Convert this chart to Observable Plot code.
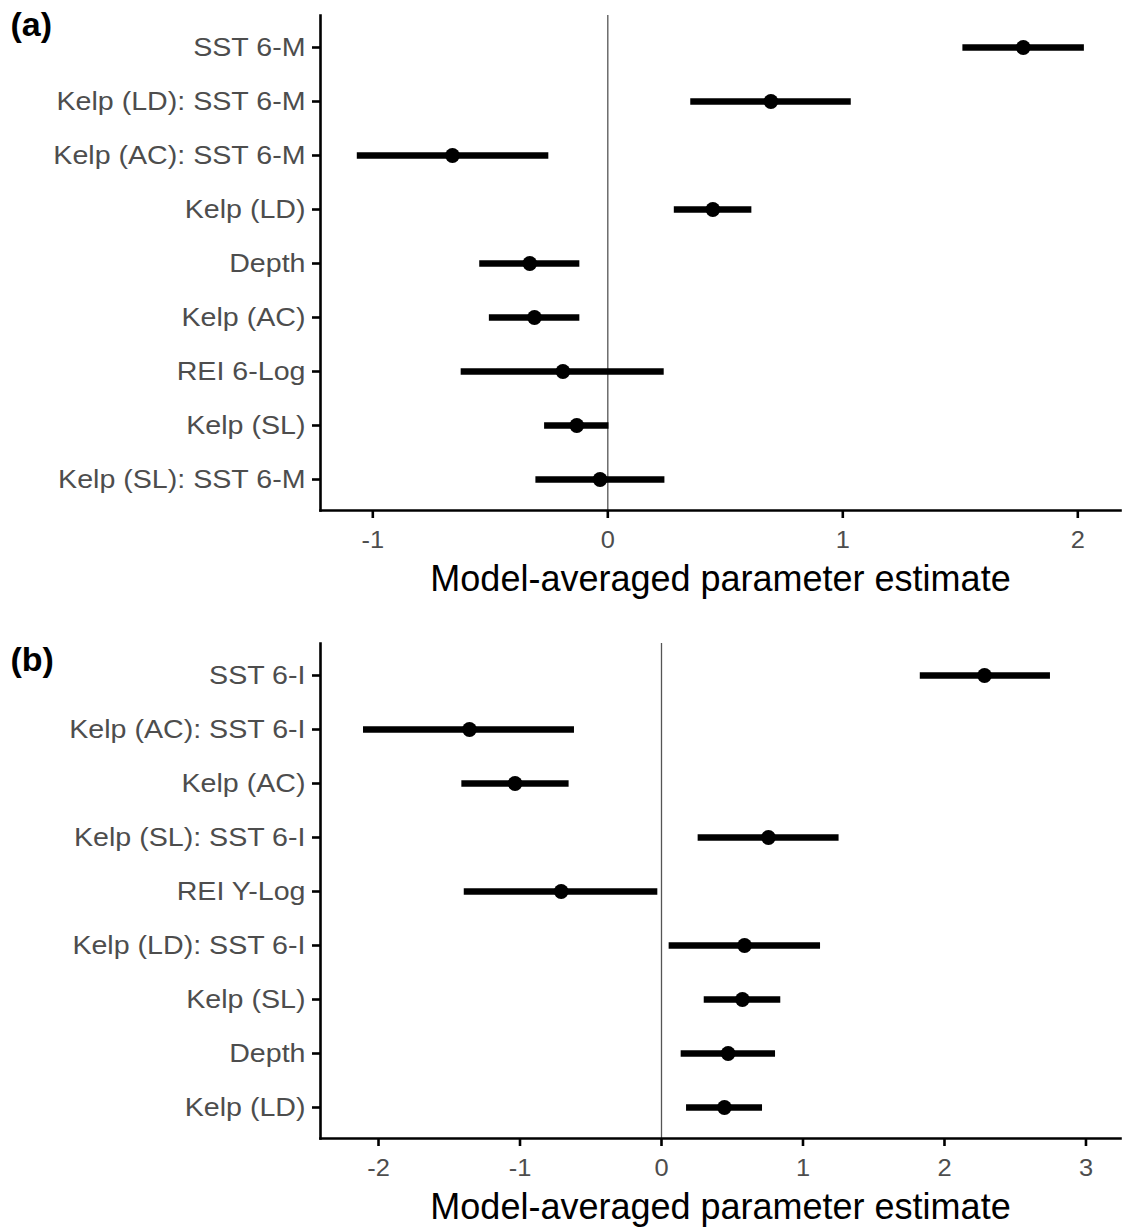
<!DOCTYPE html>
<html>
<head>
<meta charset="utf-8">
<script src="https://cdn.jsdelivr.net/npm/d3@7"></script>
<script src="https://cdn.jsdelivr.net/npm/@observablehq/plot@0.6"></script>
<style>
  html, body { margin: 0; padding: 0; background: #ffffff; }
  #chart { width: 1128px; }
  #chart svg { display: block; }
</style>
</head>
<body>
<div id="chart"></div>
<script>
// ---- Panel (a) data ----
const termsA = ["SST 6-M", "Kelp (LD): SST 6-M", "Kelp (AC): SST 6-M", "Kelp (LD)", "Depth", "Kelp (AC)", "REI 6-Log", "Kelp (SL)", "Kelp (SL): SST 6-M"];
const estA   = [1.768, 0.694, -0.661, 0.447, -0.332, -0.312, -0.191, -0.132, -0.033];
const lowA   = [1.511, 0.353, -1.066, 0.283, -0.545, -0.504, -0.624, -0.269, -0.306];
const highA  = [2.028, 1.036, -0.251, 0.613, -0.119, -0.119, 0.240, 0.005, 0.243];
const ticksA = [-1, 0, 1, 2];

// ---- Panel (b) data ----
const termsB = ["SST 6-I", "Kelp (AC): SST 6-I", "Kelp (AC)", "Kelp (SL): SST 6-I", "REI Y-Log", "Kelp (LD): SST 6-I", "Kelp (SL)", "Depth", "Kelp (LD)"];
const estB   = [2.283, -1.357, -1.035, 0.756, -0.709, 0.587, 0.572, 0.471, 0.445];
const lowB   = [1.829, -2.106, -1.411, 0.259, -1.394, 0.054, 0.302, 0.139, 0.177];
const highB  = [2.749, -0.615, -0.653, 1.255, -0.026, 1.124, 0.843, 0.806, 0.714];
const ticksB = [-2, -1, 0, 1, 2, 3];

const xTitle = "Model-averaged parameter estimate";

function rows(terms, est, low, high) {
  return terms.map((t, i) => ({term: t, est: est[i], low: low[i], high: high[i]}));
}

function panel({terms, est, low, high, ticks, domain, tag, marginTop, marginBottom, tagDy}) {
  const data = rows(terms, est, low, high);
  return Plot.plot({
    width: 1128,
    height: 615,
    marginLeft: 320,
    marginRight: 8,
    marginTop,
    marginBottom,
    style: {fontFamily: "'Liberation Sans', Arial, Helvetica, sans-serif", background: "#ffffff", overflow: "visible"},
    x: {domain, label: null},
    y: {type: "point", domain: terms, padding: 0.58, label: null},
    marks: [
      Plot.ruleX([0], {stroke: "#555555", strokeWidth: 1.3}),
      Plot.ruleY(data, {y: "term", x1: "low", x2: "high", stroke: "black", strokeWidth: 6.5}),
      Plot.dot(data, {x: "est", y: "term", r: 7.4, fill: "black", stroke: "none"}),
      Plot.frame({anchor: "left", stroke: "black", strokeWidth: 2.6}),
      Plot.frame({anchor: "bottom", stroke: "black", strokeWidth: 2.6}),
      Plot.axisY({anchor: "left", tickSize: 8, tickPadding: 7, fontSize: 26, fill: "#4d4d4d", stroke: "black", strokeWidth: 2.6, label: null}),
      Plot.axisX({anchor: "bottom", ticks, tickFormat: d => String(d), tickSize: 8, tickPadding: 12, fontSize: 24, fill: "#4d4d4d", stroke: "black", strokeWidth: 2.6, label: null}),
      Plot.text([xTitle], {frameAnchor: "bottom", dy: 55, lineAnchor: "top", fontSize: 36, fill: "black"}),
      Plot.text([tag], {frameAnchor: "top-left", dx: -310, dy: tagDy, lineAnchor: "top", textAnchor: "start", fontSize: 34, fontWeight: "bold", fill: "black"})
    ]
  });
}

const figA = panel({terms: termsA, est: estA, low: lowA, high: highA, ticks: ticksA,
  domain: [-1.2226, 2.1817], tag: "(a)", marginTop: 15, marginBottom: 105, tagDy: -4});
const figB = panel({terms: termsB, est: estB, low: lowB, high: highB, ticks: ticksB,
  domain: [-2.410, 3.244], tag: "(b)", marginTop: 28, marginBottom: 92, tagDy: 3});

const root = document.getElementById("chart");
root.append(figA, figB);

// Widen tick label glyphs slightly to match the reference's wider type
function stretch(svg, selector, k) {
  svg.querySelectorAll(selector).forEach(t => {
    const w = t.getComputedTextLength();
    if (w > 0) {
      t.setAttribute("textLength", (w * k).toFixed(2));
      t.setAttribute("lengthAdjust", "spacingAndGlyphs");
    }
  });
}
for (const svg of [figA, figB]) {
  stretch(svg, 'g[aria-label="y-axis tick label"] text', 1.10);
  stretch(svg, 'g[aria-label="x-axis tick label"] text', 1.06);
}
</script>
</body>
</html>
